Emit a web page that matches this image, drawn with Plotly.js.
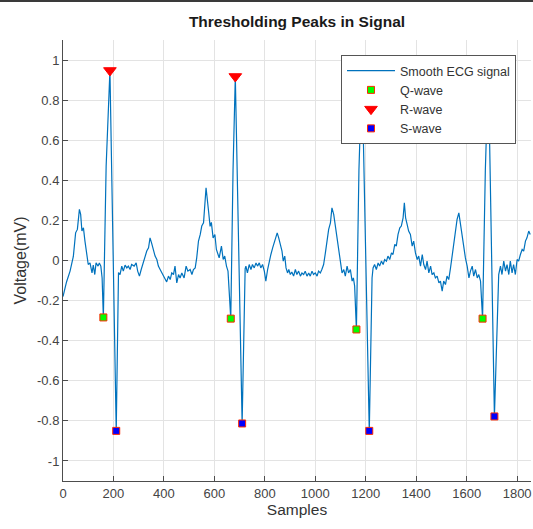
<!DOCTYPE html>
<html>
<head>
<meta charset="utf-8">
<script src="https://cdn.plot.ly/plotly-3.0.1.min.js"></script>
<style>
  html, body { margin: 0; padding: 0; background: #fff; }
  #topbar { position: absolute; left: 0; top: 0; width: 533px; height: 2px; background: #3a3a3a; z-index: 5; }
  #chart { width: 533px; height: 529px; }
</style>
</head>
<body>
<div id="topbar"></div>
<div id="chart"></div>
<script>
// ---- data ----
const sigX = [0, 14, 28, 41, 50, 57, 65, 70, 75, 81, 87, 94, 100, 107, 115, 120, 126, 131, 139, 144, 150, 155,
  160, 171, 186, 211,
  220, 226, 233, 239, 246, 253, 259, 266, 272, 282, 290, 296, 303, 310, 316, 325, 332, 339, 345, 351, 358, 365, 372, 378,
  385, 392, 398, 405, 411, 418, 425, 431, 438, 444, 451, 458, 464, 471, 480, 488, 495, 504, 511, 517, 524, 530, 537, 544,
  550, 557, 563, 567, 577, 583, 588, 595, 602, 608, 619, 628, 635, 641, 648, 654,
  665, 674, 683, 710,
  722, 725, 731, 738, 745, 751, 758, 765, 771, 778, 784, 791, 798, 804, 811, 817, 824, 831, 837, 844, 849, 855, 861, 868,
  873, 879, 884, 890, 895, 901, 907, 914, 921, 927, 934, 941, 947, 954, 960, 967, 974, 980, 987, 993, 1000, 1007, 1013,
  1020, 1026, 1033, 1040, 1046, 1053, 1060, 1066, 1073, 1079, 1086, 1093, 1099, 1106, 1113, 1119, 1126, 1132, 1139, 1146,
  1151, 1156,
  1163, 1173, 1185, 1214,
  1225, 1229, 1235, 1242, 1249, 1255, 1262, 1269, 1275, 1282, 1288, 1295, 1302, 1308, 1315, 1321, 1328, 1335, 1341, 1348,
  1353, 1358, 1364, 1370, 1377, 1384, 1390, 1397, 1404, 1410, 1417, 1424, 1430, 1437, 1443, 1450, 1457, 1463, 1470, 1476,
  1483, 1490, 1496, 1503, 1509, 1516, 1522, 1529, 1536, 1542, 1549, 1556, 1562, 1569, 1575, 1582, 1589, 1595, 1602, 1609,
  1615, 1622, 1628, 1635, 1642, 1648, 1655,
  1663, 1674, 1686, 1710,
  1727, 1734, 1740, 1747, 1754, 1760, 1767, 1773, 1780, 1786, 1793, 1800, 1806, 1813, 1820, 1826, 1833, 1839, 1846, 1852];
const sigY = [-0.18, -0.107, -0.053, 0.02, 0.138, 0.155, 0.255, 0.23, 0.147, 0.163, 0.097, 0.038, -0.02, -0.012, -0.062, -0.023, -0.07, -0.012, -0.028, -0.012, -0.028, -0.087,
  -0.284, 0.47, 0.948, -0.85,
  -0.06, -0.07, -0.028, -0.053, -0.023, -0.037, -0.028, -0.045, -0.02, -0.028, -0.012, -0.053, -0.078, -0.045, -0.02, 0.022, 0.047, 0.063, 0.113, 0.088, 0.055, 0.022, 0.005, -0.028,
  -0.045, -0.062, -0.07, -0.087, -0.107, -0.078, -0.095, -0.062, -0.07, -0.028, -0.112, -0.07, -0.087, -0.062, -0.087, -0.028, -0.053, -0.045, -0.07, -0.045, -0.037, 0.013, 0.097, 0.13,
  0.172, 0.188, 0.297, 0.363, 0.246, 0.17, 0.19, 0.113, 0.13, 0.055, 0.013, 0.072, 0.005, 0.022, -0.028, -0.053,
  -0.29, 0.45, 0.918, -0.813,
  -0.04, -0.028, -0.062, -0.02, -0.045, -0.02, -0.037, -0.012, -0.028, -0.012, -0.037, -0.02, -0.053, -0.103, -0.045, -0.003, 0.03, 0.063, 0.088, 0.113, 0.138, 0.113, 0.08, 0.047,
  -0.003, 0.022, -0.037, -0.062, -0.045, -0.07, -0.057, -0.078, -0.045, -0.07, -0.053, -0.078, -0.062, -0.07, -0.053, -0.078, -0.062, -0.078, -0.053, -0.07, -0.062, -0.078, -0.053,
  -0.062, -0.045, -0.02, 0.038, 0.097, 0.155, 0.188, 0.263, 0.23, 0.172, 0.113, 0.047, -0.003, -0.062, -0.045, -0.078, -0.028, -0.062, -0.045, -0.103,
  -0.087, -0.128,
  -0.344, 0.45, 0.95, -0.85,
  -0.087, -0.037, -0.02, -0.045, -0.012, -0.028, -0.003, -0.02, 0.005, -0.003, 0.022, 0.005, 0.038, 0.03, 0.08, 0.072, 0.13, 0.163, 0.172, 0.213,
  0.288, 0.213, 0.18, 0.147, 0.13, 0.072, 0.097, 0.038, 0.005, 0.022, -0.028, 0.03, -0.02, -0.045, -0.003, -0.062, -0.028, -0.07, -0.062, -0.087,
  -0.078, -0.112, -0.103, -0.153, -0.103, -0.12, -0.078, -0.095, -0.037, 0.022, 0.097, 0.163, 0.205, 0.238, 0.18, 0.113, 0.063, 0.013, -0.028, -0.087,
  -0.053, -0.028, -0.078, -0.045, -0.087, -0.07, -0.103,
  -0.29, 0.45, 0.95, -0.778,
  -0.07, -0.028, -0.07, -0.003, -0.053, -0.02, -0.07, -0.003, -0.062, -0.02, -0.07, 0.005, -0.003, 0.03, 0.055, 0.047, 0.097, 0.113, 0.147, 0.13];

const qX = [160, 665, 1163, 1663];
const qY = [-0.284, -0.29, -0.344, -0.29];
const rX = [186, 683, 1185, 1686];
const rY = [0.948, 0.918, 0.95, 0.95];
const sX = [211, 710, 1214, 1710];
const sY = [-0.85, -0.813, -0.85, -0.778];

const xTicks = [0, 200, 400, 600, 800, 1000, 1200, 1400, 1600, 1800];
const xTickText = ["0", "200", "400", "600", "800", "1000", "1200", "1400", "1600", "1800"];
const yTicks = [-1, -0.8, -0.6, -0.4, -0.2, 0, 0.2, 0.4, 0.6, 0.8, 1];
const yTickText = ["-1", "-0.8", "-0.6", "-0.4", "-0.2", "0", "0.2", "0.4", "0.6", "0.8", "1"];

const FONT = "Liberation Sans, Arial, Helvetica, sans-serif";
const AX = "#4d4d4d";

const traces = [
  { x: sigX, y: sigY, type: "scatter", mode: "lines", name: "Smooth ECG signal",
    line: { color: "#0072BD", width: 1.2 } },
  { x: qX, y: qY, type: "scatter", mode: "markers", name: "Q-wave",
    marker: { symbol: "square", size: 7, color: "#00ff00", line: { color: "#ff2a00", width: 1 } } },
  { x: rX, y: rY, type: "scatter", mode: "markers", name: "R-wave",
    marker: { symbol: "triangle-down", size: 11, color: "#ff0000", line: { color: "#ff0000", width: 1 } } },
  { x: sX, y: sY, type: "scatter", mode: "markers", name: "S-wave",
    marker: { symbol: "square", size: 7, color: "#0000ff", line: { color: "#ff2a00", width: 1 } } }
];

const layout = {
  width: 533, height: 529,
  margin: { l: 63, r: 2, t: 40, b: 48 },
  paper_bgcolor: "#ffffff", plot_bgcolor: "#ffffff",
  font: { family: FONT, size: 13, color: "#333333" },
  title: { text: "<b>Thresholding Peaks in Signal</b>", x: 0.5, xref: "paper", xanchor: "center",
    y: 1 - 22 / 529, yref: "container", yanchor: "middle",
    font: { family: FONT, size: 15.5, color: "#1a1a1a" } },
  xaxis: {
    range: [0, 1855], tickmode: "array", tickvals: xTicks, ticktext: xTickText,
    showgrid: true, gridcolor: "#e3e3e3", gridwidth: 1, zeroline: false,
    showline: true, linecolor: AX, linewidth: 1, mirror: false,
    ticks: "inside", ticklen: 5, tickcolor: AX, tickwidth: 1,
    tickfont: { family: FONT, size: 13, color: "#444444" },
    title: { text: "Samples", font: { family: FONT, size: 15.5, color: "#333333" }, standoff: 4 }
  },
  yaxis: {
    range: [-1.1, 1.1], tickmode: "array", tickvals: yTicks, ticktext: yTickText,
    showgrid: true, gridcolor: "#e3e3e3", gridwidth: 1, zeroline: false,
    showline: true, linecolor: AX, linewidth: 1, mirror: false,
    ticks: "inside", ticklen: 5, tickcolor: AX, tickwidth: 1,
    tickfont: { family: FONT, size: 13, color: "#444444" },
    title: { text: "Voltage(mV)", font: { family: FONT, size: 16, color: "#333333" }, standoff: 6 }
  },
  showlegend: true,
  legend: {
    x: (516 - 63) / 468, xanchor: "right", xref: "paper",
    y: (481 - 55) / 441, yanchor: "top", yref: "paper",
    bgcolor: "#ffffff", bordercolor: "#555555", borderwidth: 1,
    font: { family: FONT, size: 12.5, color: "#333333" },
    tracegroupgap: 0, itemwidth: 48
  }
};

Plotly.newPlot("chart", traces, layout, { displayModeBar: false, staticPlot: true });
</script>
</body>
</html>
